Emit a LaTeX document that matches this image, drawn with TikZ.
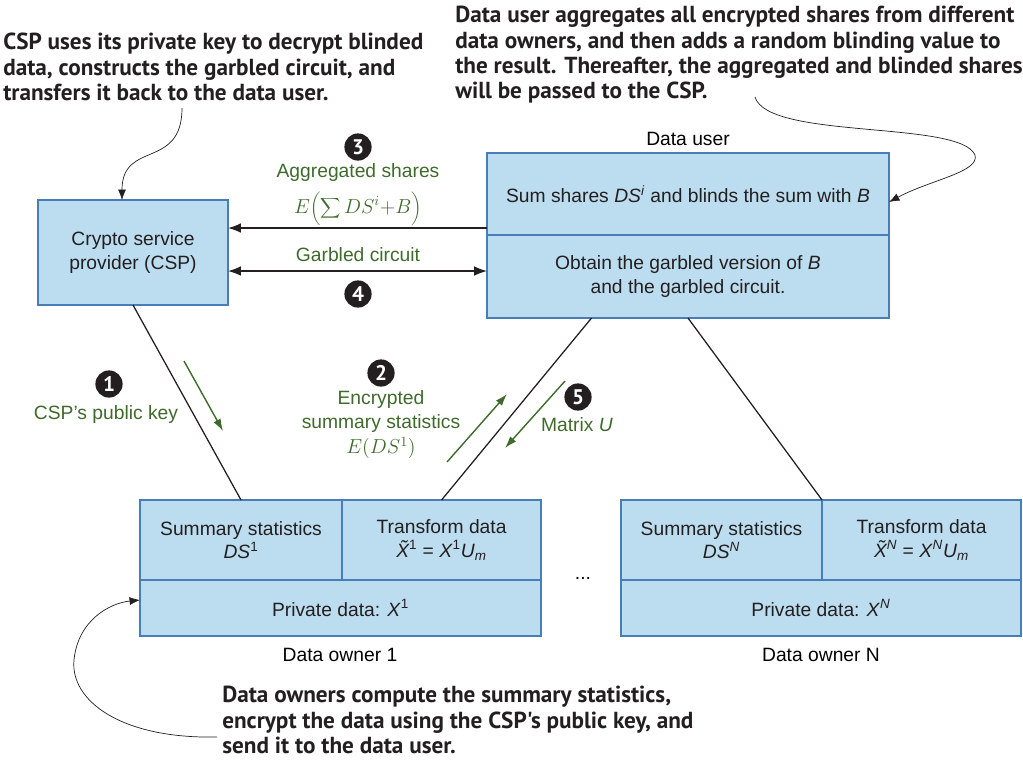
\documentclass[tikz,border=0pt]{standalone}
\usepackage{fontspec}
\setmainfont{Liberation Sans}
\newfontfamily\notefont{PT Sans}
\usetikzlibrary{arrows.meta,calc}

\definecolor{boxfill}{HTML}{BCDDEF}
\definecolor{boxline}{HTML}{4A7DB5}
\definecolor{labgreen}{HTML}{3E6B2B}
\definecolor{ink}{HTML}{231F20}

\begin{document}
\begin{tikzpicture}[x=0.025cm, y=-0.025cm,
    font=\fontsize{13.7}{16.4}\selectfont,
    box/.style={draw=boxline, fill=boxfill, line width=1pt, inner sep=0pt, outer sep=0pt, align=center, text=ink},
    num/.style={circle, fill=ink, text=white, minimum size=0.68cm, inner sep=0pt, font=\notefont\bfseries\fontsize{15}{15}\selectfont},
    lab/.style={text=labgreen, align=center},
    note/.style={font=\notefont\bfseries\fontsize{16.5}{18}\selectfont, align=left, inner sep=0pt, text=ink},
    link/.style={draw=ink, line width=0.9pt},
    hint/.style={draw=ink, line width=0.5pt, -{Latex[length=2.6mm,width=2mm]}},
    give/.style={draw=labgreen, line width=1pt, -{Latex[length=3mm,width=2mm]}},
    ]
    \useasboundingbox (0,0) rectangle (1023,765);

    % crypto service provider
    \node[box, minimum width=4.75cm, minimum height=2.625cm] (csp) at (133,252.5) {Crypto service\\provider (CSP)};

    % data user
    \node[box, minimum width=10.05cm, minimum height=2.05cm] (dut) at (688,194)
        {Sum shares \textit{DS}\textsuperscript{\textit{i}} and blinds the sum with \textit{B}};
    \node[box, minimum width=10.05cm, minimum height=2.075cm, anchor=north] (dub) at (dut.south)
        {Obtain the garbled version of \textit{B}\\and the garbled circuit.};
    \node (dutitle) at (688,139) {Data user};

    % data owner 1
    \node[box, minimum width=5.05cm, minimum height=2cm] (o1sum) at (241,540)
        {Summary statistics\\\textit{DS}\textsuperscript{1}};
    \node[box, minimum width=4.975cm, minimum height=2cm, anchor=west] (o1tr) at (o1sum.east)
        {Transform data\\\textit{\~X}\textsuperscript{1} = \textit{X}\textsuperscript{1}\textit{U}\textsubscript{\textit{m}}};
    \node[box, minimum width=10.025cm, minimum height=1.4cm, anchor=north west] (o1priv) at (o1sum.south west)
        {Private data: \textit{X}\textsuperscript{1}};
    \node (o1name) at (340,655) {Data owner 1};

    % data owner N
    \node[box, minimum width=5.025cm, minimum height=2cm] (onsum) at (721.5,540)
        {Summary statistics\\\textit{DS}\textsuperscript{\textit{N}}};
    \node[box, minimum width=4.975cm, minimum height=2cm, anchor=west] (ontr) at (onsum.east)
        {Transform data\\\textit{\~X}\textsuperscript{\textit{N}} = \textit{X}\textsuperscript{\textit{N}}\textit{U}\textsubscript{\textit{m}}};
    \node[box, minimum width=10cm, minimum height=1.4cm, anchor=north west] (onpriv) at (onsum.south west)
        {Private data: \textit{X}\textsuperscript{\textit{N}}};
    \node (onname) at (821,655) {Data owner N};

    \node (dots) at (583,578) {...};

    % links
    \draw[link] (csp.south) -- (o1sum.north);
    \draw[link] ($(dub.south west)!0.26!(dub.south east)$) -- (o1tr.north);
    \draw[link] (dub.south) -- (onsum.north east);

    \draw[link, -{Latex[length=3.2mm,width=2.4mm]}] ([yshift=0.175cm]dut.south west) coordinate (a3) -- (a3 -| csp.east);
    \draw[link, {Latex[length=3.2mm,width=2.4mm]}-{Latex[length=3.2mm,width=2.4mm]}] ([yshift=-0.9cm]dub.north west) coordinate (a4) -- (a4 -| csp.east);

    % step labels
    \node[num] (n3) at (358,147) {3};
    \node[lab] (l3) at (358,173) {Aggregated shares};
    \node[lab, anchor=north, inner sep=1pt] (f3) at (358,190) {$E\biggl(\displaystyle\sum DS^{i}{+}B\biggr)$};
    \node[lab] (l4) at (358,255) {Garbled circuit};
    \node[num] (n4) at (358,294) {4};

    \node[num] (n1) at (109,384) {1};
    \node[lab] (l1) at (106,415) {CSP's public key};
    \draw[give] (184,361) -- (223,431);

    \node[num] (n2) at (381,373) {2};
    \node[lab, anchor=north] (l2) at (381,386) {Encrypted\\summary statistics\\[2pt]$E(DS^{1})$};
    \draw[give] (447,462) -- (507,394);

    \node[num] (n5) at (578,397) {5};
    \node[lab] (l5) at (577,425) {Matrix \textit{U}};
    \draw[give] (565,381) -- (505,448);

    % notes
    \node[note, anchor=north west] (cspnote) at (3,33)
        {CSP uses its private key to decrypt blinded\\data, constructs the garbled circuit, and\\transfers it back to the data user.};
    \node[note, anchor=north west] (usernote) at (455,6)
        {Data user aggregates all encrypted shares from different\\data owners, and then adds a random blinding value to\\the result. Thereafter, the aggregated and blinded shares\\will be passed to the CSP.};
    \node[note, anchor=north west] (ownernote) at (222,686)
        {Data owners compute the summary statistics,\\encrypt the data using the CSP's public key, and\\send it to the data user.};

    \draw[hint] (182,108) .. controls (182,170) and (122,140) .. ([xshift=-0.275cm]csp.north);
    \draw[hint] (755,97) .. controls (768,140) and (960,120) .. (975,155) .. controls (980,172) and (930,180) .. ([yshift=-0.2cm]dut.east);
    \draw[hint] (217,737) .. controls (120,739) and (70,700) .. (74,660) .. controls (78,620) and (110,603) .. ([yshift=0.2cm]o1priv.west);
\end{tikzpicture}
\end{document}
